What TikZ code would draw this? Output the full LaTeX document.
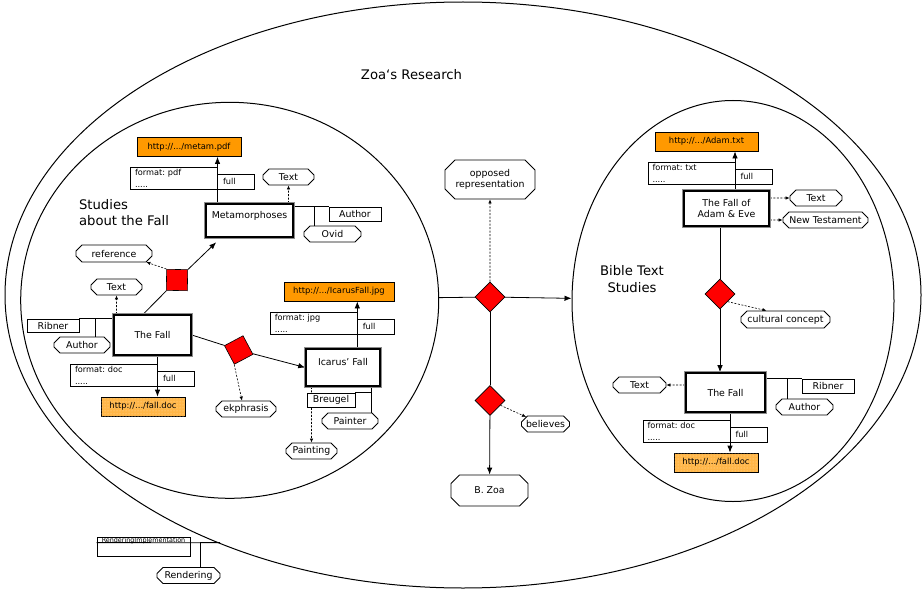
\documentclass[tikz,border=0pt]{standalone}
\usepackage{fontspec}
\setmainfont{DejaVu Sans}
\usepackage{tikz}
\usetikzlibrary{positioning,shapes,shapes.geometric,shapes.misc,arrows.meta,backgrounds,patterns}

\definecolor{DEFINE_URL_COLOR}{HTML}{FF9900}
\definecolor{DEFINE_DOC_COLOR}{HTML}{FFB648}
\definecolor{DEFINE_REL_COLOR}{HTML}{FF0000}
\definecolor{DEFINE_RIM_COLOR}{HTML}{8C8C8C}
\tikzstyle{NODE_FONT}  = [font=\fontsize{9.4}{11}\selectfont]
\tikzstyle{SMALL_FONT} = [font=\fontsize{8.2}{12}\selectfont]
\tikzstyle{URL_FONT}   = [font=\fontsize{8.4}{10}\selectfont]
\tikzstyle{HEAD_FONT}  = [font=\fontsize{13.2}{16.7}\selectfont]
\tikzstyle{TINY_FONT}  = [font=\fontsize{6.4}{7}\selectfont]
\tikzstyle{region_ell} = [ellipse, draw, line width=1pt, inner sep=0pt]
\tikzstyle{entity_box} = [rectangle, NODE_FONT, draw=black, line width=1.6pt, fill=white, inner sep=0pt, preaction={draw=DEFINE_RIM_COLOR, line width=4.4pt}]
\tikzstyle{entity_top} = [entity_box, text height=7pt, text depth=12pt]
\tikzstyle{attr_box}   = [chamfered rectangle, chamfered rectangle xsep=3pt, chamfered rectangle ysep=3pt, NODE_FONT, draw, line width=0.8pt, fill=white, inner sep=0pt, minimum height=16pt]
\tikzstyle{value_box}  = [rectangle, NODE_FONT, draw, line width=0.8pt, fill=white, inner sep=0pt, minimum height=14pt]
\tikzstyle{url_box}    = [rectangle, URL_FONT, draw, line width=0.8pt, fill=DEFINE_URL_COLOR, inner sep=0pt, minimum height=19pt]
\tikzstyle{doc_box}    = [url_box, fill=DEFINE_DOC_COLOR, postaction={pattern=dots, pattern color=white!55!DEFINE_DOC_COLOR}]
\tikzstyle{format_box} = [rectangle, SMALL_FONT, draw, line width=0.8pt, fill=white, outer sep=0pt, align=left, text width=78pt, inner xsep=4.5pt, inner ysep=0pt, minimum height=21.5pt]
\tikzstyle{full_box}   = [rectangle, SMALL_FONT, draw, line width=0.8pt, fill=white, outer sep=0pt, text width=26pt, inner xsep=5.5pt, inner ysep=0pt, minimum height=15pt]
\tikzstyle{rel_diamond}= [diamond, draw, line width=0.6pt, fill=DEFINE_REL_COLOR, inner sep=0pt, minimum size=30pt]
\tikzstyle{link}       = [line width=0.8pt]
\tikzstyle{link_arrow} = [link, -{Latex[length=7pt,width=5.5pt]}]
\tikzstyle{dep_arrow}  = [line width=0.6pt, dash pattern=on 2pt off 1.5pt, -{Latex[length=4pt,width=3.5pt]}]

\begin{document}
\frenchspacing
\begin{tikzpicture}[x=1pt, y=-1pt]
      \useasboundingbox (0,0) rectangle (923,591);

      %%%%%%%%%%%%%%%%%%%%%%%%%%%%%%%%%%%%%%%%%%%%%%%%%
      % REGIONS
      %%%%%%%%%%%%%%%%%%%%%%%%%%%%%%%%%%%%%%%%%%%%%%%%%
      \node[region_ell, minimum width=916pt, minimum height=586pt] (ZOA) at (463,295) {};
      \node[region_ell, minimum width=418pt, minimum height=396pt] (SAF) at (229.7,300.3) {};
      \node[region_ell, minimum width=322pt, minimum height=401pt] (BTS) at (733,301) {};
      \node[HEAD_FONT] (ZOA_T) at (411.5,75) {Zoa‘s Research};
      \node[HEAD_FONT, align=left, anchor=west] (SAF_T) at (75.5,212.5) {Studies\\about the Fall};
      \node[HEAD_FONT, align=center] (BTS_T) at (632,279) {Bible Text\\Studies};

      %%%%%%%%%%%%%%%%%%%%%%%%%%%%%%%%%%%%%%%%%%%%%%%%%
      % STUDIES ABOUT THE FALL
      %%%%%%%%%%%%%%%%%%%%%%%%%%%%%%%%%%%%%%%%%%%%%%%%%
      \node[entity_top, minimum width=87pt, minimum height=33pt] (META) at (249.5,220.5) {Metamorphoses};
      \node[url_box, minimum width=104pt] (META_URL) at (189,147) {http://.../metam.pdf};
      \node[format_box, anchor=south east] (META_FMT) at (217.5,189) {format: pdf\\.....};
      \node[full_box, right=0pt of META_FMT.south east, anchor=south west] (META_FULL) {full};
      \node[attr_box, minimum width=51pt] (META_TXT) at (288.5,177) {Text};
      \node[value_box, minimum width=52pt] (META_AUT) at (355,214) {Author};
      \node[attr_box, minimum width=57pt] (META_OVD) at (332.5,234) {Ovid};

      \node[entity_box, minimum width=77pt, minimum height=40pt] (FALL) at (152.5,335) {The Fall};
      \node[attr_box, minimum width=51pt] (FALL_TXT) at (116.5,287) {Text};
      \node[value_box, minimum width=52pt, minimum height=13pt] (FALL_RIB) at (53,325.5) {Ribner};
      \node[attr_box, minimum width=56pt] (FALL_AUT) at (82,345) {Author};
      \node[format_box, anchor=south east] (FALL_FMT) at (157.5,386) {format: doc\\.....};
      \node[full_box, right=0pt of FALL_FMT.south east, anchor=south west] (FALL_FULL) {full};
      \node[doc_box, minimum width=84pt] (FALL_URL) at (143,406.5) {http://.../fall.doc};

      \node[rel_diamond, rotate=44] (REF_REL) at (177,280) {};
      \node[attr_box, minimum width=76pt, minimum height=17pt] (REF) at (114,253.5) {reference};
      \node[rel_diamond, rotate=-17] (EKP_REL) at (238.7,350) {};
      \node[attr_box, minimum width=60pt] (EKP) at (246,409) {ekphrasis};

      \node[entity_top, minimum width=74pt, minimum height=37pt] (ICAR) at (343,367.5) {Icarus’ Fall};
      \node[url_box, minimum width=110pt] (ICAR_URL) at (339,291.5) {http://.../IcarusFall.jpg};
      \node[format_box, anchor=south east] (ICAR_FMT) at (357.3,334) {format: jpg\\.....};
      \node[full_box, right=0pt of ICAR_FMT.south east, anchor=south west] (ICAR_FULL) {full};
      \node[value_box, minimum width=48pt] (ICAR_BRG) at (331,400) {Breugel};
      \node[attr_box, minimum width=56pt] (ICAR_PTR) at (350,421) {Painter};
      \node[attr_box, minimum width=51pt] (ICAR_PTG) at (311.5,451) {Painting};

      %%%%%%%%%%%%%%%%%%%%%%%%%%%%%%%%%%%%%%%%%%%%%%%%%
      % RELATIONS IN THE MIDDLE
      %%%%%%%%%%%%%%%%%%%%%%%%%%%%%%%%%%%%%%%%%%%%%%%%%
      \node[rel_diamond] (OPP_REL) at (490,297) {};
      \node[attr_box, chamfered rectangle xsep=5pt, chamfered rectangle ysep=5pt, minimum width=90pt, minimum height=39pt, align=center] (OPP) at (490,179.5) {opposed\\representation};
      \node[rel_diamond] (BEL_REL) at (490,400.5) {};
      \node[attr_box, minimum width=48pt] (BEL) at (545.5,424) {believes};
      \node[attr_box, chamfered rectangle xsep=5pt, chamfered rectangle ysep=5pt, minimum width=77pt, minimum height=31pt] (BZOA) at (489.5,490.5) {B. Zoa};

      %%%%%%%%%%%%%%%%%%%%%%%%%%%%%%%%%%%%%%%%%%%%%%%%%
      % BIBLE TEXT STUDIES
      %%%%%%%%%%%%%%%%%%%%%%%%%%%%%%%%%%%%%%%%%%%%%%%%%
      \node[entity_box, minimum width=85pt, minimum height=35pt, align=center] (ADAM) at (726.5,208.5) {The Fall of\\Adam \& Eve};
      \node[url_box, minimum width=103pt] (ADAM_URL) at (706.5,141.5) {http://.../Adam.txt};
      \node[format_box, anchor=south east] (ADAM_FMT) at (735,184.3) {format: txt\\.....};
      \node[full_box, right=0pt of ADAM_FMT.south east, anchor=south west] (ADAM_FULL) {full};
      \node[attr_box, minimum width=52pt] (ADAM_TXT) at (816,198) {Text};
      \node[attr_box, minimum width=85pt] (ADAM_NT) at (825.5,220) {New Testament};
      \node[rel_diamond] (CUL_REL) at (720,294) {};
      \node[attr_box, minimum width=89pt, minimum height=17pt] (CUL) at (785.5,319.5) {cultural concept};

      \node[entity_box, minimum width=79pt, minimum height=39pt] (FALL2) at (725.5,392.5) {The Fall};
      \node[attr_box, minimum width=53pt] (FALL2_TXT) at (639.5,385) {Text};
      \node[value_box, minimum width=52pt] (FALL2_RIB) at (828,386) {Ribner};
      \node[attr_box, minimum width=57pt] (FALL2_AUT) at (804.5,407) {Author};
      \node[format_box, anchor=south east] (FALL2_FMT) at (730,442.3) {format: doc\\.....};
      \node[full_box, right=0pt of FALL2_FMT.south east, anchor=south west] (FALL2_FULL) {full};
      \node[doc_box, minimum width=84pt] (FALL2_URL) at (716,462.5) {http://.../fall.doc};

      %%%%%%%%%%%%%%%%%%%%%%%%%%%%%%%%%%%%%%%%%%%%%%%%%
      % RENDERING
      %%%%%%%%%%%%%%%%%%%%%%%%%%%%%%%%%%%%%%%%%%%%%%%%%
      \node[rectangle, TINY_FONT, draw, line width=0.8pt, inner sep=0pt, minimum width=93pt, minimum height=19pt, text height=5pt, text depth=14pt] (RIMP) at (143.5,546.5) {RenderingImplementation};
      \node[attr_box, minimum width=63pt] (REND) at (188.5,575.5) {Rendering};

      %%%%%%%%%%%%%%%%%%%%%%%%%%%%%%%%%%%%%%%%%%%%%%%%%
      % LINKS AND ARROWS
      %%%%%%%%%%%%%%%%%%%%%%%%%%%%%%%%%%%%%%%%%%%%%%%%%
      \begin{scope}[on background layer]
      \coordinate (ICAR_P) at ([xshift=-9pt]ICAR.south east);
      \coordinate (RIMP_E) at (220,542.7);

      \path[link_arrow]
      (META_FULL.south west |- META.north) edge (META_FULL.south west |- META_URL.south)
      (FALL_FULL.south west |- FALL.south) edge (FALL_FULL.south west |- FALL_URL.north)
      (ICAR_FULL.south west |- ICAR.north) edge (ICAR_FULL.south west |- ICAR_URL.south)
      (ADAM_FULL.south west |- ADAM.north) edge (ADAM_FULL.south west |- ADAM_URL.south)
      (FALL2_FULL.south west |- FALL2.south) edge (FALL2_FULL.south west |- FALL2_URL.north);

      \path[link]
      ([xshift=30pt]FALL.north west) edge (REF_REL)
      (FALL.east) edge (EKP_REL)
      (SAF) edge (OPP_REL)
      (OPP_REL) edge (BEL_REL)
      (ADAM.south -| CUL_REL) edge (CUL_REL);
      \path[link_arrow]
      (REF_REL) edge ([xshift=11pt,yshift=-4.5pt]META.south west)
      (EKP_REL) edge (ICAR.west)
      (OPP_REL) edge (BTS)
      (BEL_REL) edge (BZOA)
      (CUL_REL) edge (CUL_REL |- FALL2.north);

      \path[dep_arrow]
      (META.north -| META_TXT) edge (META_TXT)
      (FALL.north -| FALL_TXT) edge (FALL_TXT)
      (REF_REL.north) edge (REF.-15)
      (EKP_REL.south) edge ([xshift=-4pt]EKP.north)
      (ICAR.south -| ICAR_PTG) edge (ICAR_PTG)
      (OPP_REL) edge (OPP)
      (BEL_REL) edge (BEL.160)
      (ADAM.east |- ADAM_TXT) edge (ADAM_TXT)
      (ADAM.east |- ADAM_NT) edge (ADAM_NT)
      (CUL_REL.south east) edge (CUL.155)
      (FALL2.west |- FALL2_TXT) edge (FALL2_TXT);

      \draw[link] (META.east |- META_AUT.north) -- (META_AUT.north west);
      \draw[link] (FALL.west |- FALL_RIB.north) -- (FALL_RIB.north east);
      \draw[link] (FALL2.east |- FALL2_RIB.north) -- (FALL2_RIB.north west);
      \draw[link] (ICAR_P) -- (ICAR_P |- ICAR_PTR.north);
      \draw[link] (ICAR_BRG.north east) -- (ICAR_BRG.north east -| ICAR_P);
      \draw[link] ([yshift=-6pt]RIMP.north west) -- (RIMP_E);
      \path[link, to path={|- (\tikztotarget)}]
      ([xshift=-18pt]META_OVD.north) edge (META_AUT.north west)
      ([xshift=13pt]FALL_AUT.north) edge (FALL_RIB.north east)
      ([xshift=-17pt]FALL2_AUT.north) edge (FALL2_RIB.north west)
      ([xshift=12pt]REND.north) edge (RIMP_E);
      \end{scope}

\end{tikzpicture}
\end{document}
